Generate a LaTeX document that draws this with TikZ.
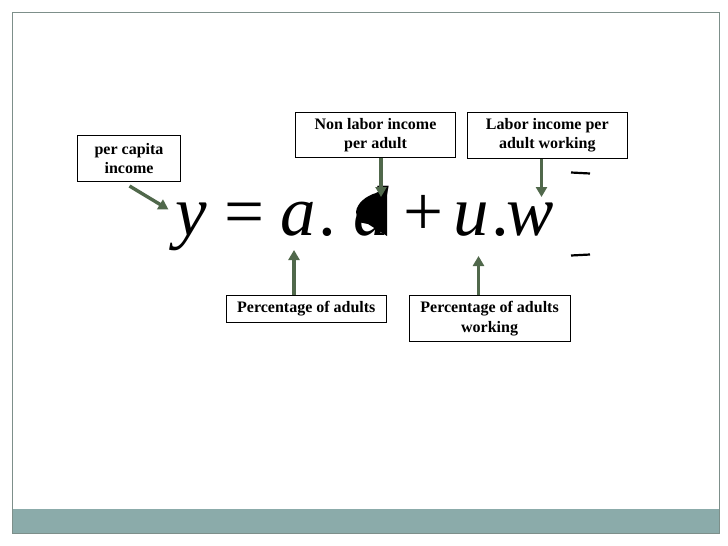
\documentclass[tikz,border=0pt]{standalone}
\usepackage{fontspec}
\setmainfont{Liberation Serif}
\newfontfamily\eqfont{Liberation Serif}
\usetikzlibrary{arrows.meta}
\definecolor{framegray}{RGB}{125,143,138}
\definecolor{barteal}{RGB}{139,171,170}
\definecolor{arrowgreen}{RGB}{80,104,75}
\begin{document}
\begin{tikzpicture}[x=1pt,y=-1pt,
  lbl/.style={draw=black,line width=0.9pt,inner sep=0pt,align=center,
    font=\fontsize{16}{19.5}\selectfont\bfseries},
  ptr/.style={arrowgreen,line width=3.4pt,-{Triangle[width=11pt,length=10pt]}},
  glyph/.style={inner sep=0pt,anchor=base,font=\eqfont\fontsize{71}{71}\selectfont},
  strokemark/.style={black,line width=2.2pt}]
\useasboundingbox (0,0) rectangle (728,546);
% slide frame and bottom bar
\fill[white] (0,0) rectangle (728,546);
\fill[barteal] (12,509) rectangle (719,533);
\draw[framegray,line width=1pt] (12,12) rectangle (719,533);
% boxes
\node[lbl,minimum width=103pt,minimum height=46pt] (pc) at (129,158.5) {per capita\\income};
\node[lbl,minimum width=160pt,minimum height=45.5pt] (nl) at (375.5,135) {Non labor income\\per adult};
\node[lbl,minimum width=160pt,minimum height=46pt] (li) at (547.3,135.3) {Labor income per\\adult working};
\node[lbl,minimum width=160.5pt,minimum height=27.7pt] (pa) at (306.3,308.9) {Percentage of adults};
\node[lbl,minimum width=160.7pt,minimum height=46.7pt] (pw) at (489.6,318.4) {Percentage of adults\\working};
% equation
\node[glyph] (gy) at (191,235) {\itshape y};
\node[glyph] (geq) at (245,235) {=};
\node[glyph] (ga) at (298,235) {\itshape a};
\node[glyph] (gd1) at (327,235) {.};
\node[glyph] (gd) at (371,235) {\itshape d};
\node[glyph] (gp) at (424,235) {+};
\node[glyph] (gu) at (471,235) {\itshape u};
\node[glyph] (gd2) at (500,235) {.};
\node[glyph] (gw) at (530,235) {\itshape w};
% black blot over d
\fill[black] (387,187) -- (387,236) -- (368,224) -- (358,222) -- (356,212)
  .. controls (357,203) and (366,196) .. (376,193) -- cycle;
% stray dashes
\draw[strokemark] (571,172.5) -- (590,173.5);
\draw[strokemark] (571,255.5) -- (590,254.5);
% arrows
\coordinate (tpc) at (168.5,209.5);
\coordinate (spc) at (129.5,186);
\coordinate (tnl) at (381,197);
\coordinate (tli) at (541.5,197);
\coordinate (tpa) at (294,250);
\coordinate (tpw) at (478.5,256);
\draw[ptr] (spc) -- (tpc);
\draw[ptr] (tnl |- nl.south) -- (tnl);
\draw[ptr] (tli |- li.south) -- (tli);
\draw[ptr] (tpa |- pa.north) -- (tpa);
\draw[ptr] (tpw |- pw.north) -- (tpw);
\end{tikzpicture}
\end{document}
